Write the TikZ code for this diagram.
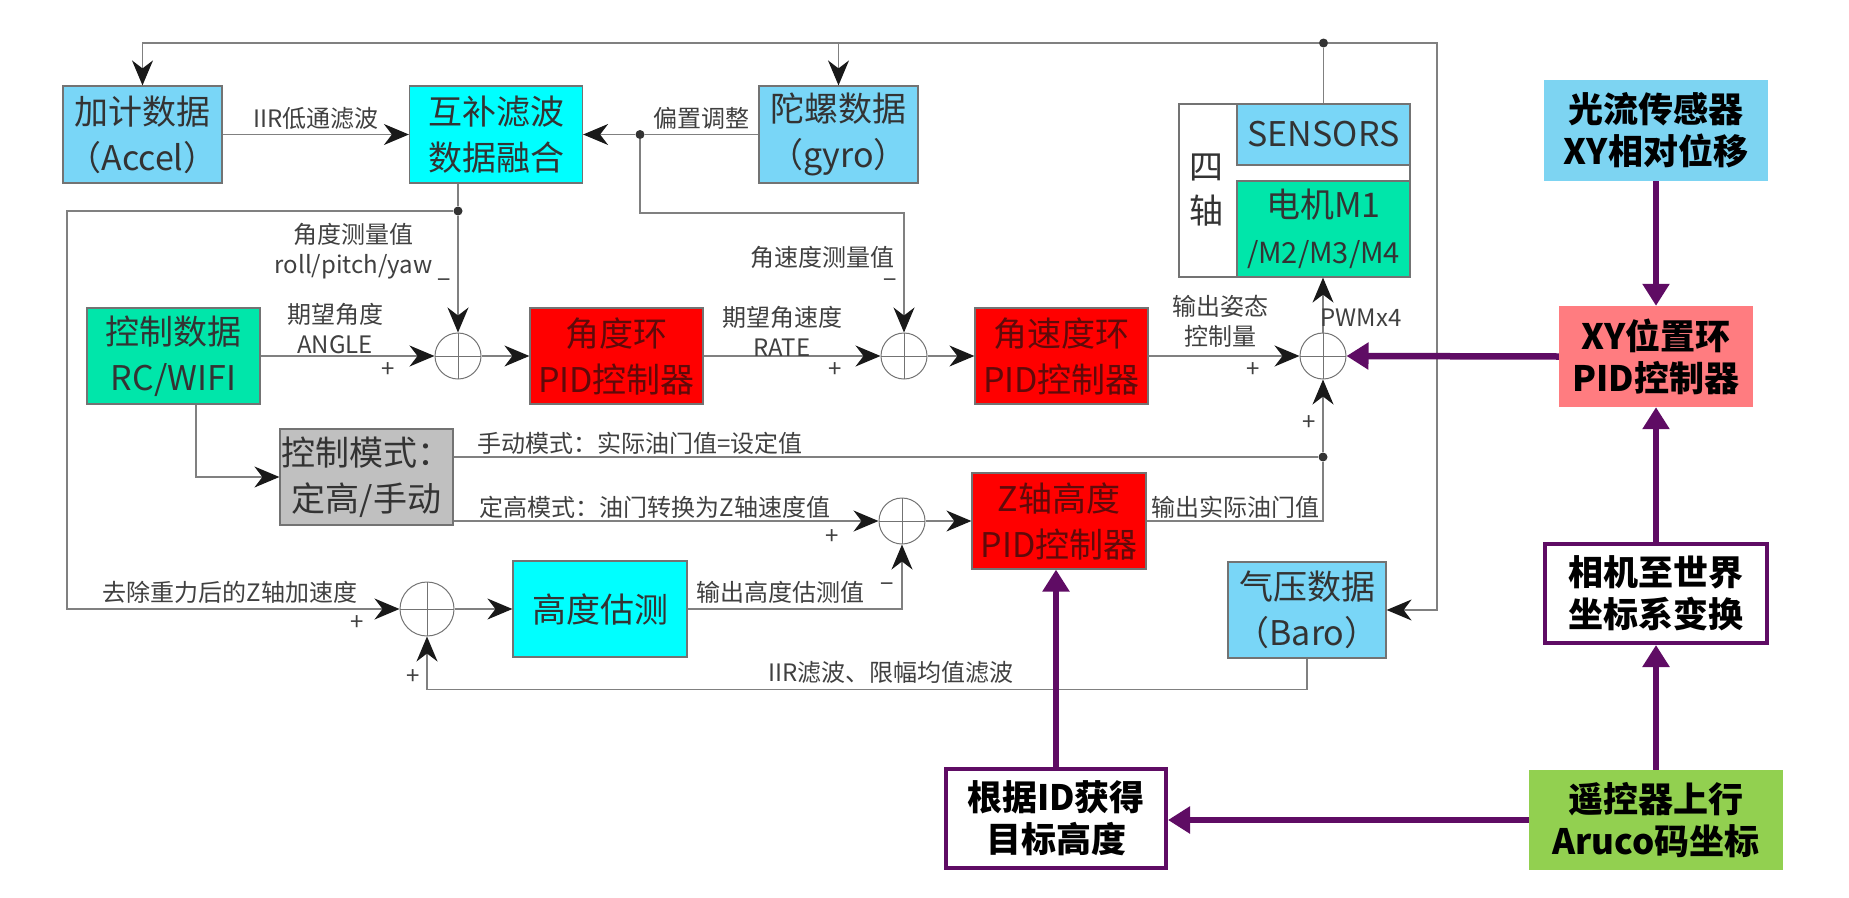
\documentclass[tikz,border=0pt]{standalone}
\usepackage{fontspec}
\setmainfont{Noto Sans CJK SC}
\usepackage{tikz}
\usetikzlibrary{arrows.meta,positioning,calc}

\definecolor{skyb}{RGB}{121,214,247}
\definecolor{aqua}{RGB}{0,255,255}
\definecolor{mint}{RGB}{0,230,170}
\definecolor{pidred}{RGB}{255,0,0}
\definecolor{pidtxt}{RGB}{95,10,10}
\definecolor{modegray}{RGB}{192,192,192}
\definecolor{optblue}{RGB}{125,212,242}
\definecolor{xyred}{RGB}{255,124,128}
\definecolor{arugreen}{RGB}{146,208,80}
\definecolor{purp}{RGB}{95,12,100}

\begin{document}
\begin{tikzpicture}[
    x=1pt, y=-1pt,
    blk/.style={rectangle, draw=black!55, line width=1.2pt, inner sep=0pt, align=center, text=black!80, font=\fontsize{34}{46}\selectfont},
    box/.style={blk, minimum width=173pt, minimum height=96pt},
    pid/.style={box, fill=pidred, text=pidtxt},
    sum/.style={circle, draw=black!55, line width=1pt, minimum size=46pt, inner sep=0pt,
        path picture={\draw[black!55, line width=1pt] (path picture bounding box.north) -- (path picture bounding box.south)
            (path picture bounding box.west) -- (path picture bounding box.east);}},
    dot/.style={circle, fill=black!80, inner sep=0pt, minimum size=9pt},
    lbl/.style={inner sep=0pt, align=center, text=black!75, font=\fontsize{24}{30}\selectfont},
    vbox/.style={rectangle, inner sep=0pt, minimum height=101pt, align=center, font=\bfseries\fontsize{35}{42}\selectfont},
    frame/.style={fill=white, draw=purp, line width=4pt},
    line/.style={draw=black!50, line width=1.3pt},
    flow/.style={line, -{Stealth[length=25pt, width=21pt, inset=8pt, color=black!90]}},
    pflow/.style={draw=purp, line width=6.5pt, -{Triangle[length=22pt, width=26pt]}},
]
    \useasboundingbox (0,0) rectangle (1849,897);

    % sensor data and fusion
    \node[box, fill=skyb, minimum width=159pt, minimum height=97pt] (accel) at (142.5,134.5) {加计数据\\（Accel）};
    \node[box, fill=aqua, minimum height=97pt] (fusion) at (496,134.5) {互补滤波\\数据融合};
    \node[box, fill=skyb, minimum width=159pt, minimum height=97pt] (gyro) at (838.5,134.5) {陀螺数据\\（gyro）};

    % quadcopter
    \node[blk, fill=white, minimum width=231pt, minimum height=173pt] (quad) at (1294.5,190.5) {};
    \node[box, fill=skyb, minimum height=61pt] (sensors) at (1323.5,134.5) {SENSORS};
    \node[box, fill=mint] (motor) at (1323.5,229) {电机M1\\{\fontsize{29}{46}\selectfont /M2/M3/M4}};
    \node[blk, draw=none, font=\fontsize{34}{44}\selectfont] (quadlbl) at (1206,190) {四\\轴};

    % attitude loops
    \node[box, fill=mint] (ctrl) at (173.5,356) {控制数据\\RC/WIFI};
    \node[sum] (s1) at (458,356) {};
    \node[pid] (anglepid) at (616.5,356) {角度环\\PID控制器};
    \node[sum] (s2) at (904,356) {};
    \node[pid] (ratepid) at (1061.5,356) {角速度环\\PID控制器};
    \node[sum] (s3) at (1323,356) {};

    % altitude loop
    \node[box, fill=modegray] (mode) at (366.5,477) {控制模式：\\定高/手动};
    \node[sum] (s5) at (902,521) {};
    \node[pid, minimum width=174pt] (zpid) at (1059,521) {Z轴高度\\PID控制器};
    \node[sum, minimum size=54pt] (s4) at (427,609) {};
    \node[box, fill=aqua, minimum width=174pt] (height) at (600,609) {高度估测};
    \node[box, fill=skyb, minimum width=158pt] (baro) at (1307,610) {气压数据\\（Baro）};

    % vision / position part
    \node[vbox, fill=optblue, minimum width=224pt] (optical) at (1656,130.5) {光流传感器\\XY相对位移};
    \node[vbox, fill=xyred, minimum width=194pt] (xypid) at (1656,356.5) {XY位置环\\PID控制器};
    \node[vbox, frame, minimum width=222pt, minimum height=99pt] (cam) at (1656,593.5) {相机至世界\\坐标系变换};
    \node[vbox, fill=arugreen, minimum width=254pt, minimum height=100pt] (aruco) at (1656,820) {遥控器上行\\Aruco码坐标};
    \node[vbox, frame, minimum width=220pt, minimum height=99pt] (idbox) at (1056,818.5) {根据ID获得\\目标高度};

    % branch points
    \node[dot] (topdot) at (1323.5,43) {};
    \node[dot] (biasdot) at (640,134.5) {};
    \node[dot] (angdot) at (458,211) {};
    \node[dot] (mandot) at (1323,457) {};
    \coordinate (topright) at (1437,43);

    % feedback from sensors
    \draw[line] (sensors.north) -- (topdot);
    \draw[flow] (topdot) -| (accel.north);
    \draw[flow] (topdot) -| (gyro.north);
    \draw[flow] (topdot) -- (topright) |- (baro.east);

    % complementary filter
    \draw[flow] (accel) -- node[lbl, above=4pt] (lbliir) {IIR低通滤波} (fusion);
    \draw[line] (gyro) -- node[lbl, above=4pt] (lblbias) {偏置调整} (biasdot);
    \draw[flow] (biasdot) -- (fusion);
    \draw[flow] (biasdot) -- ++(0,78.5) -| (s2.north);
    \draw[line] (s1 |- fusion.south) -- (angdot);
    \draw[flow] (angdot) -- (s1.north);
    \draw[flow] (angdot) -- ++(-391,0) |- (s4.west);

    % cascade
    \draw[flow] (ctrl) -- (s1);
    \draw[flow] (s1) -- (anglepid);
    \draw[flow] (anglepid) -- (s2);
    \draw[flow] (s2) -- (ratepid);
    \draw[flow] (ratepid) -- (s3);
    \draw[flow] (s3.north) -- (s3.north |- motor.south);

    % throttle paths
    \draw[flow] ($(ctrl.south)+(22.5,0)$) |- (mode.west);
    \draw[line] (mode.east |- mandot) -- (mandot);
    \draw[flow] (mandot) -- (s3.south);
    \draw[flow] (mode.east |- s5) -- (s5);
    \draw[flow] (s5) -- (zpid);
    \draw[line] (zpid.east) -| (mandot);
    \draw[flow] (height.east) -| (s5.south);
    \draw[flow] (s4) -- (height);
    \draw[flow] (baro.south) -- ++(0,31) -| (s4.south);

    % purple links
    \draw[pflow] (xypid.west) -- (s3.east);
    \draw[pflow] (optical) -- (xypid);
    \draw[pflow] (cam) -- (xypid);
    \draw[pflow] (aruco) -- (cam);
    \draw[pflow] (aruco.west) -- (aruco.west -| idbox.east);
    \draw[pflow] (idbox.north) -- (idbox.north |- zpid.south);

    % signal labels
    \node[lbl] (lblang) at (353.5,251) {角度测量值\\roll/pitch/yaw};
    \node[lbl] (lblangm) at (444,284) {−};
    \node[lbl] (lblrate) at (822,257) {角速度测量值};
    \node[lbl] (lblratem) at (890,284) {−};
    \node[lbl] (lbldes) at (335,329) {期望角度\\ANGLE};
    \node[lbl] (lblp1) at (388,370) {+};
    \node[lbl] (lbldesr) at (782,331) {期望角速度\\RATE};
    \node[lbl] (lblp2) at (835,370) {+};
    \node[lbl] (lblout) at (1220,321.5) {输出姿态\\控制量};
    \node[lbl] (lblp3) at (1253,370) {+};
    \node[lbl] (lblp3b) at (1309,423) {+};
    \node[lbl] (lblpwm) at (1361,318) {PWMx4};
    \node[lbl] (lblman) at (640,443) {手动模式：实际油门值=设定值};
    \node[lbl] (lblalt) at (655,507) {定高模式：油门转换为Z轴速度值};
    \node[lbl] (lblp5) at (832,537) {+};
    \node[lbl] (lblthr) at (1235,507) {输出实际油门值};
    \node[lbl] (lblacc) at (230,592) {去除重力后的Z轴加速度};
    \node[lbl] (lblp4) at (357,623) {+};
    \node[lbl] (lblhest) at (780,592) {输出高度估测值};
    \node[lbl] (lblhm) at (887,588) {−};
    \node[lbl] (lblbaro) at (891,672) {IIR滤波、限幅均值滤波};
    \node[lbl] (lblp4b) at (413,677) {+};
\end{tikzpicture}
\end{document}
